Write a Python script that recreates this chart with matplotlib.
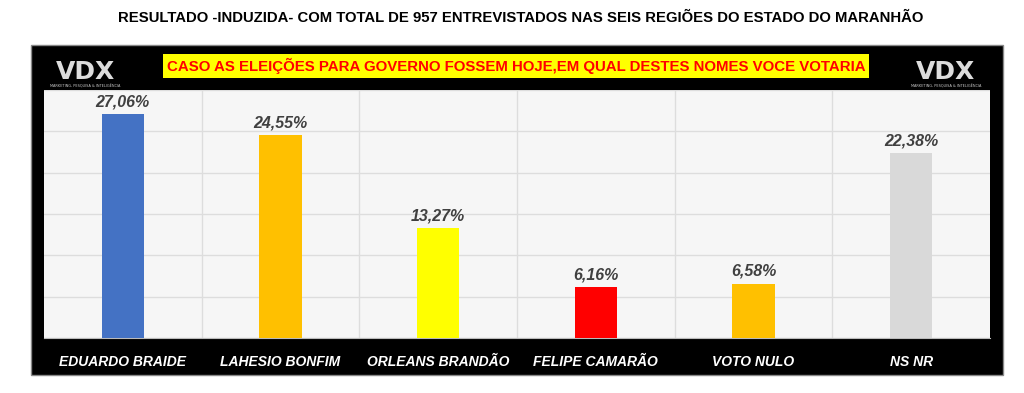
import numpy as np
import matplotlib.pyplot as plt
from matplotlib.patches import Rectangle

candidatos = ['EDUARDO BRAIDE', 'LAHESIO BONFIM', 'ORLEANS BRANDÃO',
              'FELIPE CAMARÃO', 'VOTO NULO', 'NS NR']
valores = [27.06, 24.55, 13.27, 6.16, 6.58, 22.38]
rotulos = ['27,06%', '24,55%', '13,27%', '6,16%', '6,58%', '22,38%']
cores = ['#4472C4', '#FFC000', '#FFFF00', '#FF0000', '#FFC000', '#D9D9D9']

fig = plt.figure(figsize=(10.24, 3.93), dpi=100)
fig.patch.set_facecolor('white')

# caixa preta de fundo
W, H = 1024, 393
fig.patches.append(Rectangle((31/W, 1-375/H), (1003-31)/W, (375-45)/H,
                             transform=fig.transFigure, facecolor='black',
                             edgecolor='#888888', lw=1, zorder=-5))

ax = fig.add_axes([44/W, 1-338/H, (990-44)/W, (338-90)/H])
ax.set_zorder(2)
ax.set_facecolor('#F6F6F6')
x = np.arange(len(candidatos))
ax.bar(x, valores, width=0.27, color=cores, zorder=3)
for xi, v, r in zip(x, valores, rotulos):
    ax.text(xi, v+0.6, r, ha='center', va='bottom', fontsize=11.5,
            fontweight='bold', fontstyle='italic', color='#404040',
            family='Liberation Sans', zorder=4)

ax.set_xlim(-0.5, 5.5)
ax.set_ylim(0, 30)
ax.set_yticks(np.arange(0, 31, 5))
ax.set_xticks(np.arange(0.5, 5, 1), minor=True)
ax.grid(True, which='major', axis='y', color='#DDDDDD', lw=1, zorder=1)
ax.grid(True, which='minor', axis='x', color='#DDDDDD', lw=1, zorder=1)
ax.tick_params(axis='y', left=False, labelleft=False)
ax.tick_params(axis='x', which='both', bottom=False)
ax.set_xticks(x)
ax.set_xticklabels(candidatos, fontsize=10, fontweight='bold',
                   fontstyle='italic', color='white', family='Liberation Sans')
ax.tick_params(axis='x', pad=9)
for s in ['top', 'right', 'left']:
    ax.spines[s].set_visible(False)
ax.spines['bottom'].set_color('#BBBBBB')

fig.text(521/W, 1-18/H, 'RESULTADO -INDUZIDA- COM TOTAL DE 957 ENTREVISTADOS NAS SEIS REGIÕES DO ESTADO DO MARANHÃO',
         ha='center', va='center', fontsize=10.7, fontweight='bold',
         family='Liberation Sans', color='black')
fig.text(516/W, 1-66/H, 'CASO AS ELEIÇÕES PARA GOVERNO FOSSEM HOJE,EM QUAL DESTES NOMES VOCE VOTARIA',
         ha='center', va='center', fontsize=10.8, fontweight='bold',
         family='Liberation Sans', color='#FF0000',
         bbox=dict(boxstyle='square,pad=0.25', facecolor='#FFFF00', edgecolor='none'))

for cx in [85, 946]:
    fig.text(cx/W, 1-72/H, 'VDX', ha='center', va='center', fontsize=18,
             fontweight='bold', color='#DDDDDD', family='DejaVu Sans')
    fig.text(cx/W, 1-86/H, 'MARKETING, PESQUISA & INTELIGÊNCIA', ha='center',
             va='center', fontsize=2.5, color='#CCCCCC')

plt.savefig('out.png', dpi=100)
